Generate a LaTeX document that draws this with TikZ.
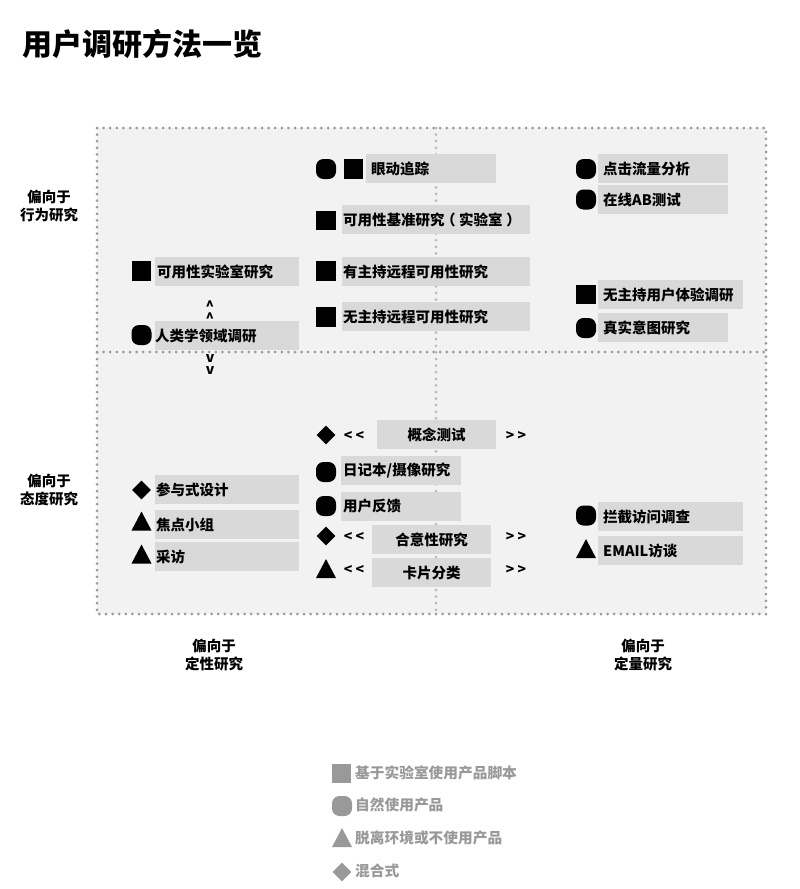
\documentclass[tikz,border=0pt]{standalone}
\usepackage{fontspec}
\usepackage{xcolor}
\setmainfont{Noto Sans CJK SC}
\usetikzlibrary{shapes.geometric}
\definecolor{panelgray}{HTML}{F2F2F2}
\definecolor{boxgray}{HTML}{D9D9D9}
\definecolor{dotgray}{HTML}{999999}
\definecolor{keygray}{HTML}{999999}
\begin{document}
\begin{tikzpicture}[x=1pt, y=-1pt,
  itemfont/.style={font=\fontsize{14.5}{16}\selectfont\bfseries},
  itembox/.style={itemfont, fill=boxgray, anchor=north west, minimum height=29pt,
    inner ysep=0pt, inner xsep=2pt, text width=#1pt-4pt, align=left},
  itemboxr/.style={itembox=#1, inner xsep=5pt, text width=#1pt-10pt},
  itemboxm/.style={itembox=#1, inner xsep=1pt, text width=#1pt-2pt},
  midbox/.style={itembox=#1, align=center},
  sqmark/.style={fill=black, minimum size=19.5pt, inner sep=0pt},
  circmark/.style={fill=black, minimum size=20pt, inner sep=0pt, rounded corners=7.5pt},
  trimark/.style={isosceles triangle, shape border rotate=90, isosceles triangle stretches,
    fill=black, minimum width=20pt, minimum height=19pt, inner sep=0pt},
  diamark/.style={diamond, fill=black, minimum size=19pt, inner sep=0pt},
  chev/.style={font=\fontsize{14}{12}\selectfont\bfseries, inner sep=0pt, align=center},
  axis/.style={font=\fontsize{14.5}{18}\selectfont\bfseries, align=center},
  keytext/.style={font=\fontsize{14.7}{16}\selectfont\bfseries, text=keygray,
    anchor=west, inner sep=0pt},
  dotline/.style={dotgray, line width=3pt, line cap=round,
    dash pattern=on 0pt off 6.6pt},
]
\useasboundingbox (0,0) rectangle (800,889);

% Title
\node[font=\fontsize{30}{32}\selectfont\bfseries, anchor=west, inner sep=0pt]
  (title) at (22,44) {用户调研方法一览};

% Panel
\fill[panelgray] (97,128) rectangle (766,614);
\draw[dotline] (97,128) rectangle (766,614);
\draw[dotline] (97,352) -- (766,352);
\draw[dotline, dotgray!70] (436,128) -- (436,614);

% Axis labels
\node[axis] (behave) at (49,206) {偏向于\\行为研究};
\node[axis] (attitude) at (49,490) {偏向于\\态度研究};
\node[axis] (quali) at (214,655) {偏向于\\定性研究};
\node[axis] (quanti) at (643,655) {偏向于\\定量研究};

% Upper left
\node[sqmark] (labmark) at (141.5,271) {};
\node[itembox=144] (lab) at (155,257) {可用性实验室研究};
\node[circmark] (ethnomark) at (141.5,335) {};
\node[itembox=144, inner xsep=0pt, text width=144pt] (ethno) at (155,321) {人类学领域调研};
\node[chev] (up) at (210,312) {\string^\\\string^};
\node[chev] (down) at (210,365) {v\\v};

% Upper middle
\node[circmark] (eyemarka) at (326,169) {};
\node[sqmark] (eyemarkb) at (353.5,169) {};
\node[itemboxr=130] (eye) at (366,154) {眼动追踪};
\node[sqmark] (basemark) at (326,220.5) {};
\node[itemboxm=188] (base) at (342,205) {可用性基准研究\kern-.25em（\kern.25em 实验室\kern.25em）};
\node[sqmark] (modmark) at (326,271) {};
\node[itemboxm=188] (mod) at (342,257) {有主持远程可用性研究};
\node[sqmark] (unmodmark) at (326,317) {};
\node[itemboxm=188] (unmod) at (342,302) {无主持远程可用性研究};

% Upper right
\node[circmark] (clickmark) at (586,169) {};
\node[itemboxr=130] (click) at (598,154) {点击流量分析};
\node[circmark] (abmark) at (586,199.5) {};
\node[itemboxr=130] (ab) at (598,185) {在线AB测试};
\node[sqmark] (uxmark) at (586,294.5) {};
\node[itemboxr=145] (ux) at (598,280) {无主持用户体验调研};
\node[circmark] (intentmark) at (586,328) {};
\node[itemboxr=130] (intent) at (598,313) {真实意图研究};

% Lower left
\node[diamark] (partmark) at (141.5,490) {};
\node[itembox=144, inner xsep=1pt, text width=142pt] (part) at (155,475) {参与式设计};
\node[trimark] (focusmark) at (141.5,524.5) {};
\node[itembox=144, inner xsep=1pt, text width=142pt] (focus) at (155,510) {焦点小组};
\node[trimark] (intvmark) at (141.5,557.5) {};
\node[itembox=144, inner xsep=1pt, text width=142pt] (intv) at (155,542) {采访};

% Lower middle
\node[diamark] (conceptmark) at (326,435) {};
\node[chev] (conceptl) at (354,436) {< <};
\node[midbox=119] (concept) at (377,420) {概念测试};
\node[chev] (conceptr) at (516,436) {> >};
\node[circmark] (diarymark) at (326,472) {};
\node[itembox=120] (diary) at (341,456) {日记本/摄像研究};
\node[circmark] (feedmark) at (326,506) {};
\node[itembox=120] (feed) at (341,491.5) {用户反馈};
\node[diamark] (desiremark) at (326,536) {};
\node[chev] (desirel) at (354,537) {< <};
\node[midbox=119] (desire) at (372,525) {合意性研究};
\node[chev] (desirer) at (516,537) {> >};
\node[trimark] (cardmark) at (326,572) {};
\node[chev] (cardl) at (354,570) {< <};
\node[midbox=119] (card) at (372,558) {卡片分类};
\node[chev] (cardr) at (516,570) {> >};

% Lower right
\node[circmark] (interceptmark) at (586,515.5) {};
\node[itemboxr=145] (intercept) at (598,502) {拦截访问调查};
\node[trimark] (emailmark) at (586,552) {};
\node[itemboxr=145] (email) at (598,536) {EMAIL访谈};

% Legend
\node[sqmark, fill=keygray] (keysq) at (341.5,773.5) {};
\node[keytext] (keysqtext) at (355,773) {基于实验室使用产品脚本};
\node[circmark, fill=keygray] (keycirc) at (342,806) {};
\node[keytext] (keycirctext) at (355,805) {自然使用产品};
\node[trimark, fill=keygray] (keytri) at (342,841) {};
\node[keytext] (keytritext) at (355,838) {脱离环境或不使用产品};
\node[diamark, fill=keygray] (keydia) at (342,872) {};
\node[keytext] (keydiatext) at (355,871) {混合式};
\end{tikzpicture}
\end{document}
